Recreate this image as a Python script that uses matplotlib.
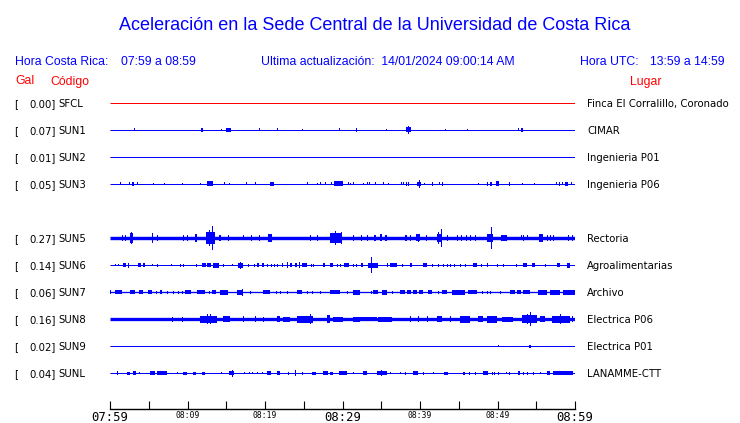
import matplotlib
matplotlib.use("Agg")
import matplotlib.pyplot as plt

# ---------------- data ----------------
title = "Aceleración en la Sede Central de la Universidad de Costa Rica"
hora_cr = "07:59 a 08:59"
actualizacion = "14/01/2024 09:00:14 AM"
hora_utc = "13:59 a 14:59"

codes = ['SFCL', 'SUN1', 'SUN2', 'SUN3', 'SUN5', 'SUN6', 'SUN7', 'SUN8', 'SUN9', 'SUNL']
gal = [0.00, 0.07, 0.01, 0.05, 0.27, 0.14, 0.06, 0.16, 0.02, 0.04]
places = ['Finca El Corralillo, Coronado', 'CIMAR', 'Ingenieria P01', 'Ingenieria P06',
          'Rectoria', 'Agroalimentarias', 'Archivo', 'Electrica P06', 'Electrica P01',
          'LANAMME-CTT']

tick_minutes = [0, 10, 20, 30, 40, 50, 60]
tick_labels = ['07:59', '08:09', '08:19', '08:29', '08:39', '08:49', '08:59']
minor_minutes = [5, 15, 25, 35, 45, 55]

# activity bursts per station: (start minute, end minute, half amplitude)
ev_SFCL = []
ev_SUN1 = [(3.1,3.1,1.5),(11.7,12.0,2),(14.3,14.3,1),(15.0,15.6,2),(19.2,19.2,1.5),(21.5,21.5,1.5),
           (24.8,24.8,1),(29.5,29.5,1.5),(31.7,31.9,2),(35.6,35.6,1),(38.2,38.8,2.5),(38.5,38.5,4),
           (43.2,43.2,1),(46.1,46.1,1),(52.6,52.6,1.5),(53.0,53.3,2)]
ev_SUN2 = []
ev_SUN3 = [(1.3,1.3,1.5),(2.5,2.5,1.5),(2.8,3.1,2),(3.5,3.5,1.5),(5.5,5.5,1),(7.0,7.0,1),(9.3,9.3,1),
           (11.6,11.6,1),(12.5,13.3,2.5),(14.7,14.7,1.5),(15.4,15.4,1),(17.5,17.5,1.5),(18.7,18.7,1.5),
           (20.6,21.2,2),(25.4,25.4,1.5),(26.7,26.7,1),(27.1,27.1,1.5),(27.7,27.7,1.5),(28.5,28.5,1.5),
           (28.9,30.1,2.5),(30.7,30.7,1.5),(31.0,31.0,1),(31.4,31.4,1.5),(32.6,32.6,1),(33.2,33.2,1.5),
           (33.4,33.4,1.5),(34.2,34.2,1.5),(35.2,35.2,1.5),(35.9,35.9,1),(37.5,37.5,1.5),(37.8,37.8,1.5),
           (38.2,38.2,2),(38.5,38.5,2),(39.6,40.1,2),(39.9,39.9,4),(40.5,40.5,1),(41.5,41.7,2),
           (42.5,42.5,1.5),(42.8,42.8,2),(47.5,47.5,1),(48.6,48.6,2),(49.0,49.3,2),(49.8,50.2,2.5),
           (51.5,51.5,2),(53.2,53.2,1),(54.7,54.7,1),(57.5,57.5,1.5),(57.9,57.9,2),(58.3,58.3,1.5),
           (58.7,59.1,2),(59.5,59.5,1.5)]
ev_SUN5 = [(1.5,1.5,3),(1.9,1.9,3),(2.6,3.0,5),(2.7,2.7,6),(5.4,5.6,5),(6.1,6.1,3),(9.4,9.4,3),
           (9.9,9.9,3),(11.0,11.2,4),(12.4,13.5,6),(12.8,12.8,8),(13.2,13.2,12),(14.1,14.3,3),
           (15.2,15.2,3),(17.2,17.2,2.5),(18.2,18.2,3),(19.2,19.2,3),(20.4,20.9,4),(25.8,25.8,3),
           (26.7,26.7,3),(28.4,29.9,5),(29.0,29.0,7),(29.8,29.8,6),(31.4,31.4,3),(32.4,32.4,3),
           (33.2,33.2,3),(34.1,34.3,3),(34.8,35.1,3.5),(35.5,35.7,3),(38.1,38.3,3),(38.7,38.7,3),
           (39.5,40.0,3.5),(39.7,39.7,4),(40.8,40.8,3),(42.2,42.8,4),(42.3,42.3,6),(42.7,42.7,9),
           (43.5,43.5,3),(44.8,44.8,3),(45.3,45.3,3),(45.9,45.9,3),(46.5,46.5,3),(47.1,47.1,3),
           (48.6,49.4,4),(49.2,49.2,11),(50.5,51.2,3),(53.0,53.0,2.5),(53.3,53.3,3),(53.8,53.8,2.5),
           (55.4,55.9,4),(56.4,56.4,3),(56.8,56.8,3),(57.2,57.2,3),(59.1,59.1,3),(59.6,59.6,3)]
ev_SUN6 = [(0.6,0.6,1),(1.0,1.0,1),(1.7,2.1,2),(2.3,2.3,2.5),(3.6,4.0,2),(4.3,4.5,2),(5.4,5.4,1),
           (6.1,6.1,1.5),(7.9,7.9,1),(9.0,9.0,1.5),(9.4,9.4,1.5),(11.1,11.1,1.5),(11.9,12.4,2),
           (12.5,13.0,2),(13.3,14.1,2.5),(14.6,14.6,1.5),(15.7,15.7,1),(16.5,17.2,2.5),(16.8,16.8,3.5),
           (17.8,17.8,1.5),(18.6,18.6,1.5),(19.0,19.2,2),(19.6,19.9,2),(20.3,20.3,1.5),(20.8,20.8,1.5),
           (21.2,21.2,1.5),(21.5,21.5,1.5),(22.2,22.3,2),(22.8,22.8,3),(23.2,23.5,2),(23.9,24.1,2),
           (24.4,24.4,3),(24.8,25.4,2),(25.9,25.9,1.5),(26.2,26.2,1.5),(27.5,27.7,2),(28.4,28.8,2),
           (29.3,29.3,1.5),(29.7,29.7,1.5),(30.2,30.8,2),(31.4,31.4,1.5),(31.7,31.7,1.5),(32.4,32.6,2),
           (33.3,34.6,2.5),(33.7,33.7,8),(35.7,35.7,2),(36.1,37.0,2),(37.7,37.7,1.5),(38.7,39.0,2),
           (40.4,40.9,2),(41.5,41.5,1.5),(42.3,42.3,1.5),(43.0,43.0,1.5),(43.5,43.5,1.5),(43.9,43.9,1.5),
           (44.4,44.4,1.5),(45.2,45.2,1.5),(45.8,45.8,1.5),(46.8,47.4,2),(47.9,47.9,1.5),(48.6,48.8,2),
           (49.9,49.9,1.5),(50.7,50.7,1.5),(52.4,52.4,1.5),(53.3,53.8,2),(54.5,54.8,2),(56.1,56.1,1.5),
           (57.7,58.1,2),(59.0,59.4,2.5)]
ev_SUN7 = [(0.0,0.1,2),(0.6,1.5,2),(2.6,3.2,2),(3.7,4.3,2),(4.9,5.4,2),(5.9,5.9,1.5),(6.5,6.7,2),
           (7.4,7.4,1.5),(8.1,8.1,1.5),(8.8,8.8,1.5),(9.3,9.3,1.5),(9.7,10.5,2),(11.2,12.3,2),
           (12.8,12.8,1.5),(13.2,13.7,2),(14.2,15.2,2.5),(16.4,17.2,2.5),(17.0,17.0,3.5),(18.1,18.1,1.5),
           (19.7,20.6,2),(21.4,21.4,1.5),(21.9,21.9,1.5),(22.8,22.8,1.5),(24.1,24.8,2),(25.4,25.4,1.5),
           (26.1,26.1,1.5),(27.1,27.1,1.5),(28.4,29.7,2),(30.6,30.6,1.5),(31.4,32.3,2.5),(33.7,33.7,1.5),
           (33.9,34.6,2),(35.1,35.7,2.5),(36.4,36.4,1.5),(37.4,38.0,2),(38.3,38.8,2),(39.1,39.6,2),
           (39.9,40.4,2),(41.0,41.5,2),(42.3,42.3,1.5),(42.8,43.5,2),(44.1,45.8,2.5),(46.2,47.4,2),
           (48.0,48.0,1.5),(48.6,48.6,1.5),(49.0,49.0,1.5),(50.3,50.3,1.5),(51.6,52.3,2),(52.5,53.0,2),
           (53.3,54.2,2),(55.2,56.4,2.5),(56.8,58.1,2.5),(58.5,60.0,2.5)]
ev_SUN8 = [(8.0,8.0,2.5),(9.3,9.3,2.5),(11.6,13.8,3.5),(12.5,12.5,5),(12.9,12.9,5),(14.6,15.5,3),
           (17.2,17.2,3),(18.7,18.7,3),(19.7,19.7,2.5),(21.5,21.9,3),(22.3,23.2,2.5),(24.1,26.2,3.5),
           (25.8,25.8,5),(28.0,28.4,4),(28.8,30.1,2.5),(31.4,32.3,2.5),(32.3,34.5,2.3),(34.6,36.4,2.5),
           (38.7,38.7,3),(39.7,39.7,3),(40.9,40.9,3),(42.2,42.8,3),(43.9,43.9,3),(45.2,46.5,3.5),
           (47.5,48.1,3),(48.6,49.9,3.5),(50.6,52.0,2.5),(53.2,55.1,4),(53.8,53.8,5),(54.2,54.2,7),
           (55.5,56.1,3),(57.0,59.4,3.5),(58.1,58.1,5),(59.6,59.6,3)]
ev_SUN9 = [(50.1,50.1,0.8),(54.1,54.3,1.5)]
ev_SUNL = [(0.9,0.9,2),(2.2,2.6,1.5),(3.0,3.4,2),(3.7,3.7,1),(5.2,5.8,2),(6.1,7.4,2),(8.6,8.6,1),
           (9.4,9.9,1.5),(10.7,11.1,1.5),(11.9,12.3,1.5),(14.3,14.3,1),(15.4,16.0,2),(15.7,15.7,3.5),
           (17.3,17.3,1),(17.9,17.9,1),(18.3,18.3,1),(19.0,19.0,1),(19.6,19.6,1),(20.3,20.8,2),
           (21.5,21.9,2),(23.0,23.0,1.5),(23.9,23.9,3),(24.8,24.8,1.5),(26.1,26.6,1.5),(27.5,28.1,2),
           (28.4,28.8,1.5),(29.5,30.6,2),(31.4,31.4,1),(32.6,33.2,2),(34.5,35.7,2),(35.0,35.0,3),
           (36.1,36.1,1),(37.4,37.4,1),(38.1,38.1,1.5),(39.1,39.7,2),(40.4,40.4,1.5),(41.7,41.7,1),
           (43.1,43.6,1.5),(45.5,45.8,1.5),(46.3,46.3,1.5),(47.1,47.1,1.5),(48.1,48.8,2),(49.3,49.3,1.5),
           (49.5,49.5,1.5),(50.1,50.1,1.5),(51.1,51.1,1),(51.5,51.5,1.5),(52.6,52.9,2),(53.3,53.3,1.5),
           (53.8,53.8,1.5),(54.6,54.6,1.5),(55.5,55.5,1),(56.4,56.8,2),(57.2,59.7,2)]

events = [ev_SFCL, ev_SUN1, ev_SUN2, ev_SUN3, ev_SUN5, ev_SUN6, ev_SUN7, ev_SUN8, ev_SUN9, ev_SUNL]

# ---------------- layout / style ----------------
W, H = 740, 423
slots = [0, 1, 2, 3, 5, 6, 7, 8, 9, 10]          # row positions (gap for missing station)
trace_colors = ['#ff0000'] + ['#0000ff'] * 9
base_px = [1, 1, 1, 1, 3.4, 1, 1.3, 3.3, 1, 1]    # baseline thickness in pixels
BLUE, RED = '#0000ff', '#ff0000'
ROW_PX = 27.0
TOP_ROW_PX = 103.0

def fx(px):
    return px / W

def fy(py):
    return 1 - py / H

fig = plt.figure(figsize=(W / 100, H / 100), dpi=100)
fig.patch.set_facecolor('white')

# traces axes
ax = fig.add_axes([fx(110), fy(TOP_ROW_PX + 10.5 * ROW_PX), 465 / W, 11 * ROW_PX / H])
ax.set_xlim(0, 60)
ax.set_ylim(10.5, -0.5)
ax.axis('off')

px_to_pt = 72 / 100
for slot, evs, col, bw in zip(slots, events, trace_colors, base_px):
    ax.hlines(slot, 0, 60, color=col, linewidth=bw * px_to_pt, capstyle='butt')
    for t0, t1, a in evs:
        w = max(t1 - t0, 0.13)
        ax.bar(t0, 2 * a / ROW_PX, width=w, bottom=slot - a / ROW_PX, align='edge',
               color=col, linewidth=0)

# time axis
tax = fig.add_axes([fx(110), fy(409), 465 / W, 0.0001])
tax.set_xlim(0, 60)
for s in ['top', 'left', 'right']:
    tax.spines[s].set_visible(False)
tax.spines['bottom'].set_linewidth(1.0)
tax.set_yticks([])
tax.set_xticks(tick_minutes)
tax.set_xticks(minor_minutes, minor=True)
tax.set_xticklabels(tick_labels, family='DejaVu Sans Mono')
tax.tick_params(axis='x', which='both', direction='in', length=6, width=0.8, pad=1.5)
for i, lab in enumerate(tax.get_xticklabels()):
    lab.set_fontsize(8.8 if i in (0, 3, 6) else 5.8)

# header texts
hfont = dict(family='Liberation Sans', fontsize=8.8)
fig.text(fx(375), fy(30), title, ha='center', va='baseline', color=BLUE,
         family='Liberation Sans', fontsize=13.0)
fig.text(fx(15), fy(64.5), "Hora Costa Rica:", ha='left', va='baseline', color=BLUE, **hfont)
fig.text(fx(121), fy(64.5), hora_cr, ha='left', va='baseline', color=BLUE, **hfont)
fig.text(fx(261), fy(64.5), "Ultima actualización:  " + actualizacion, ha='left', va='baseline',
         color=BLUE, **hfont)
fig.text(fx(580.5), fy(64.5), "Hora UTC:", ha='left', va='baseline', color=BLUE, **hfont)
fig.text(fx(650.5), fy(64.5), hora_utc, ha='left', va='baseline', color=BLUE, **hfont)
fig.text(fx(15), fy(84.5), "Gal", ha='left', va='baseline', color=RED, **hfont)
fig.text(fx(50), fy(84.5), "Código", ha='left', va='baseline', color=RED, **hfont)
fig.text(fx(630), fy(84.5), "Lugar", ha='left', va='baseline', color=RED, **hfont)

# station labels
lfont = dict(family='DejaVu Sans', fontsize=7.3, color='black')
for slot, code, g, place in zip(slots, codes, gal, places):
    yb = TOP_ROW_PX + slot * ROW_PX + 3.8
    fig.text(fx(14.5), fy(yb), "[", ha='left', va='baseline', **lfont)
    fig.text(fx(56), fy(yb), f"{g:.2f}]", ha='right', va='baseline', **lfont)
    fig.text(fx(58.3), fy(yb), code, ha='left', va='baseline', **lfont)
    fig.text(fx(587.3), fy(yb), place, ha='left', va='baseline', **lfont)

fig.savefig('out.png', dpi=100, facecolor='white')
